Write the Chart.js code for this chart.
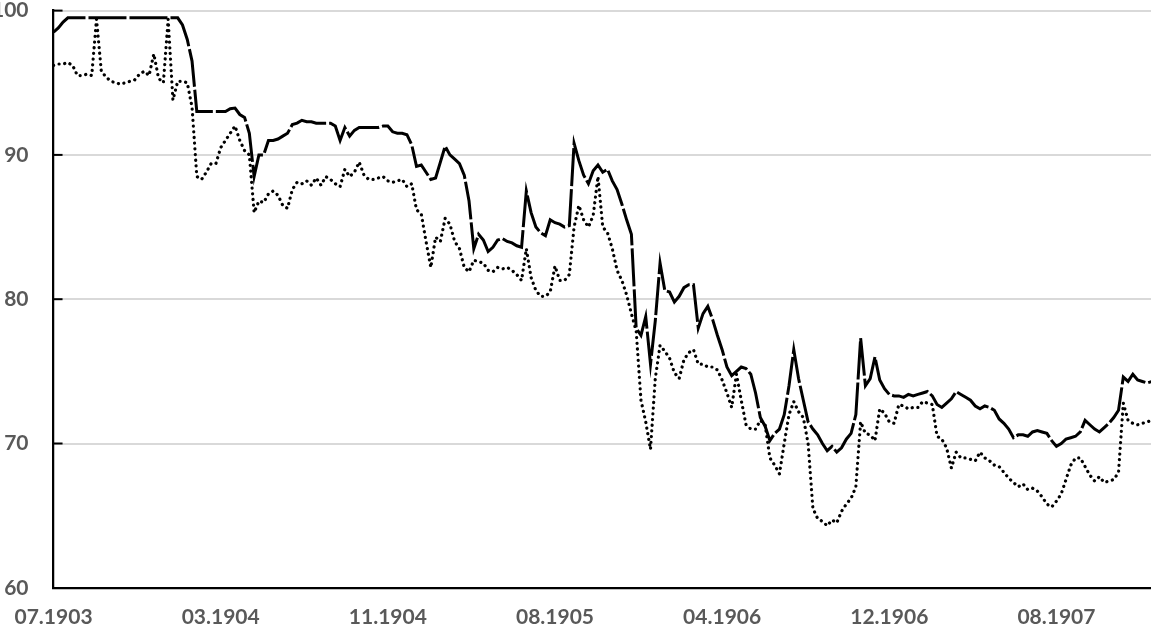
<!DOCTYPE html>
<html>
<head>
<meta charset="utf-8">
<script src="https://cdn.jsdelivr.net/npm/chart.js@4/dist/chart.umd.min.js"></script>
<style>
  html, body { margin: 0; padding: 0; background: #fff; overflow: hidden; }
  #wrap { position: absolute; left: -8px; top: -2px; width: 1159px; height: 632px; }
</style>
</head>
<body>
<div id="wrap"><canvas id="c" width="1159" height="632"></canvas></div>
<script>
// Weekly observations, starting end of July 1903
const tickLabels = ['07.1903', '03.1904', '11.1904', '08.1905', '04.1906', '12.1906', '08.1907'];
const labelEvery = 35; // weeks between tick labels

const seriesSolid = [
  98.5, 98.8, 99.2, 99.5, 99.5, 99.5, 99.5, 99.5, 99.5, 99.5,
  99.5, 99.5, 99.5, 99.5, 99.5, 99.5, 99.5, 99.5, 99.5, 99.5,
  99.5, 99.5, 99.5, 99.5, 99.5, 99.5, 99.5, 99.0, 98.0, 96.5,
  93.0, 93.0, 93.0, 93.0, 93.0, 93.0, 93.0, 93.2, 93.25, 92.8,
  92.6, 91.5, 88.5, 90.0, 90.0, 91.0, 91.0, 91.1, 91.3, 91.5,
  92.1, 92.2, 92.4, 92.3, 92.3, 92.2, 92.2, 92.2, 92.2, 92.0,
  91.0, 91.9, 91.3, 91.7, 91.9, 91.9, 91.9, 91.9, 91.9, 92.0,
  92.0, 91.6, 91.5, 91.5, 91.4, 90.7, 89.2, 89.3, 88.8, 88.3,
  88.4, 89.5, 90.6, 90.0, 89.7, 89.4, 88.6, 86.8, 83.5, 84.5,
  84.1, 83.3, 83.6, 84.1, 84.2, 84.0, 83.9, 83.7, 83.6, 87.5,
  86.0, 85.0, 84.6, 84.4, 85.5, 85.3, 85.2, 85.0, 85.1, 90.8,
  89.6, 88.6, 88.0, 88.9, 89.3, 88.8, 89.0, 88.2, 87.6, 86.6,
  85.5, 84.5, 78.0, 77.5, 78.8, 75.5, 78.5, 82.5, 80.6, 80.5,
  79.8, 80.2, 80.8, 81.0, 81.0, 78.0, 79.0, 79.5, 78.6, 77.5,
  76.5, 75.3, 74.7, 75.0, 75.3, 75.2, 74.8, 73.5, 71.8, 71.2,
  70.2, 70.7, 71.0, 72.0, 74.0, 76.5, 74.5, 73.0, 71.5, 71.0,
  70.6, 70.0, 69.5, 69.8, 69.4, 69.7, 70.3, 70.7, 72.0, 77.3,
  74.0, 74.5, 76.0, 74.4, 73.8, 73.4, 73.3, 73.3, 73.2, 73.4,
  73.3, 73.4, 73.5, 73.6, 73.3, 72.7, 72.5, 72.8, 73.1, 73.6,
  73.4, 73.2, 73.0, 72.6, 72.4, 72.6, 72.5, 72.3, 71.7, 71.4,
  71.0, 70.4, 70.6, 70.6, 70.5, 70.8, 70.9, 70.8, 70.7, 70.2,
  69.8, 70.0, 70.3, 70.4, 70.5, 70.8, 71.6, 71.3, 71.0, 70.8,
  71.1, 71.4, 71.8, 72.3, 74.6, 74.3, 74.8, 74.4, 74.3, 74.2,
  74.3
];

const seriesDotted = [
  96.2, 96.3, 96.3, 96.4, 96.2, 95.5, 95.5, 95.6, 95.5, 99.4,
  95.8, 95.4, 95.1, 95.0, 94.9, 95.0, 95.1, 95.2, 95.6, 95.8,
  95.5, 97.0, 95.3, 95.0, 99.4, 93.8, 95.1, 95.1, 95.0, 93.3,
  88.5, 88.3, 88.8, 89.4, 89.4, 90.5, 91.0, 91.5, 92.0, 91.0,
  90.3, 90.0, 86.0, 86.8, 86.7, 87.3, 87.5, 87.2, 86.5, 86.3,
  87.6, 88.1, 88.0, 88.2, 87.9, 88.4, 87.9, 88.5, 88.3, 88.0,
  87.8, 89.0, 88.5, 88.8, 89.5, 88.6, 88.3, 88.3, 88.4, 88.5,
  88.2, 88.1, 88.2, 88.3, 87.8, 88.0, 86.2, 85.9, 84.0, 82.2,
  84.3, 84.0, 85.6, 85.2, 84.0, 83.5, 82.2, 81.9, 82.7, 82.6,
  82.5, 82.0, 81.9, 82.2, 82.1, 82.2, 82.0, 81.7, 81.3, 83.5,
  81.5, 80.6, 80.2, 80.2, 80.5, 82.3, 81.3, 81.3, 81.7, 85.0,
  86.5, 85.5, 85.0, 85.8, 88.5, 85.0, 84.6, 83.5, 82.0, 81.3,
  80.3, 79.0, 77.8, 73.0, 71.5, 69.6, 74.5, 76.8, 76.4, 75.9,
  74.9, 74.5, 75.8, 76.3, 76.5, 75.5, 75.5, 75.3, 75.3, 75.1,
  74.4, 73.5, 72.5, 74.8, 73.0, 71.3, 71.0, 71.0, 71.6, 71.3,
  69.0, 68.5, 67.9, 70.0, 72.0, 72.9, 72.2, 71.8, 70.0, 65.5,
  64.8, 64.6, 64.3, 64.7, 64.5, 65.3, 65.8, 66.2, 67.0, 71.5,
  70.7, 70.6, 70.2, 72.4, 72.1, 71.5, 71.4, 72.7, 72.6, 72.4,
  72.5, 72.5, 72.9, 72.8, 72.7, 70.5, 70.3, 69.7, 68.3, 69.4,
  69.0, 69.0, 68.9, 68.8, 69.4, 69.0, 68.8, 68.5, 68.4, 68.0,
  67.6, 67.3, 67.0, 67.2, 66.8, 66.9, 66.7, 66.3, 65.8, 65.6,
  66.0, 66.5, 67.5, 68.5, 69.0, 69.0, 68.4, 67.8, 67.4, 67.7,
  67.3, 67.4, 67.5, 68.0, 72.8, 71.6, 71.4, 71.3, 71.4, 71.5,
  71.6
];

const yMin = 60, yMax = 100, yStep = 10;

const toPoints = arr => arr.map((v, i) => ({ x: i, y: v }));

const insideTicks = {
  id: 'insideTicks',
  afterDatasetsDraw(chart) {
    const { ctx, chartArea, scales } = chart;
    const y = scales.y;
    ctx.save();
    ctx.strokeStyle = '#000';
    ctx.lineWidth = 2;
    y.ticks.forEach(t => {
      if (t.value === yMin) return;
      const py = y.getPixelForValue(t.value);
      ctx.beginPath();
      ctx.moveTo(chartArea.left, py);
      ctx.lineTo(chartArea.left + 9, py);
      ctx.stroke();
    });
    ctx.restore();
  }
};

const font = { family: 'Lato', weight: 'bold', size: 21 };

new Chart(document.getElementById('c'), {
  type: 'line',
  data: {
    datasets: [
      {
        data: toPoints(seriesSolid),
        borderColor: '#000',
        borderWidth: 3,
        borderDash: [38, 3],
        pointRadius: 0,
        tension: 0,
        borderJoinStyle: 'miter'
      },
      {
        data: toPoints(seriesDotted),
        borderColor: '#000',
        borderWidth: 3.2,
        borderDash: [0.1, 5.6],
        borderCapStyle: 'round',
        pointRadius: 0,
        tension: 0
      }
    ]
  },
  options: {
    responsive: false,
    animation: false,
    devicePixelRatio: 1,
    layout: { padding: 0, autoPadding: false },
    plugins: { legend: { display: false }, tooltip: { enabled: false } },
    scales: {
      x: {
        type: 'linear',
        min: 0,
        max: 229.8,
        afterBuildTicks: axis => {
          axis.ticks = tickLabels.map((_, k) => ({ value: k * labelEvery }));
        },
        ticks: {
          autoSkip: false,
          maxRotation: 0,
          padding: 0,
          color: '#595959',
          font: font,
          callback: v => tickLabels[Math.round(v / labelEvery)]
        },
        grid: { display: false, drawTicks: true, tickLength: 17, tickColor: 'rgba(0,0,0,0)' },
        border: { display: true, color: '#000', width: 2.25 }
      },
      y: {
        min: yMin,
        max: yMax,
        ticks: {
          stepSize: yStep,
          padding: 0,
          color: '#595959',
          font: font
        },
        grid: { color: '#d9d9d9', lineWidth: 2, drawTicks: true, tickLength: 25, tickColor: 'rgba(0,0,0,0)' },
        border: { display: true, color: '#000', width: 2.25 }
      }
    }
  },
  plugins: [insideTicks]
});
</script>
</body>
</html>
